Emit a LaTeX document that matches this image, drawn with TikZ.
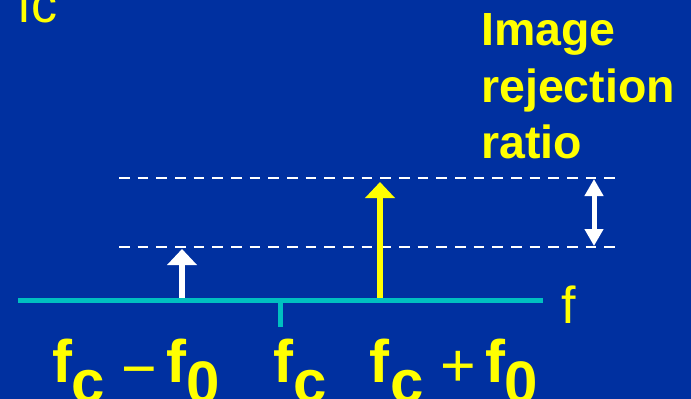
\documentclass[tikz,border=0pt]{standalone}
\usepackage{fontspec}
\setmainfont{Liberation Sans}
\usetikzlibrary{arrows.meta}
\definecolor{bg}{RGB}{0,48,160}
\definecolor{axiscol}{RGB}{0,192,192}
\definecolor{yel}{RGB}{255,255,0}
\begin{document}
\begin{tikzpicture}[x=1pt,y=-1pt,
  big/.style={font=\fontsize{60}{60}\selectfont\bfseries, text=yel, inner sep=0pt, anchor=base west},
  sym/.style={font=\fontsize{61}{61}\selectfont, text=yel, inner sep=0pt, anchor=base west},
  reg/.style={font=\fontsize{52}{52}\selectfont, text=yel, inner sep=0pt, anchor=base west},
  title/.style={font=\fontsize{46.5}{46.5}\selectfont\bfseries, text=yel, inner sep=0pt, anchor=base west},
  dashline/.style={white, line width=2pt, dash pattern=on 10.5pt off 8.17pt},
  axisline/.style={axiscol, line width=5.5pt},
  bigarrow/.style={line width=5.5pt, -{Triangle[width=29pt,length=16pt]}},
  dblarrow/.style={white, line width=5pt, {Triangle[width=18pt,length=17pt]}-{Triangle[width=18pt,length=17pt]}}]
\fill[bg] (0,0) rectangle (691,399);
\useasboundingbox (0,0) rectangle (691,399);
% coordinates
\coordinate (axL) at (18,300.5);
\coordinate (axR) at (543,300.5);
\coordinate (tickT) at (280.5,300.5);
\coordinate (tickB) at (280.5,327);
\coordinate (d1L) at (119,178);
\coordinate (d1R) at (616,178);
\coordinate (d2L) at (119,247);
\coordinate (d2R) at (616,247);
\coordinate (wb) at (182,300);
\coordinate (wt) at (182,249);
\coordinate (yb) at (380,300);
\coordinate (yt) at (380,182);
\coordinate (ra) at (594,179);
\coordinate (rb) at (594,246);
% dashed levels
\draw[dashline] (d1L) -- (d1R);
\draw[dashline] (d2L) -- (d2R);
% arrows
\draw[bigarrow, white] (wb) -- (wt);
\draw[bigarrow, yel] (yb) -- (yt);
\draw[dblarrow] (ra) -- (rb);
% axis
\draw[axisline] (axL) -- (axR);
\draw[axiscol, line width=5pt] (tickT) -- (tickB);
% texts
\node[reg] (topfc) at (17,22) {fc};
\node[reg] (faxis) at (561,323) {f};
\node[title] (t1) at (481,45) {Image};
\node[title] (t2) at (481,102) {rejection};
\node[title] (t3) at (481,158) {ratio};
% f_c - f_0
\node[big] (a1) at (52,382) {f};
\node[big] (a2) at (71,402) {c};
\node[sym] (a3) at (121,389) {−};
\node[big] (a4) at (166.5,382) {f};
\node[big] (a5) at (186.5,403) {0};
% f_c
\node[big] (b1) at (273,382) {f};
\node[big] (b2) at (293,402) {c};
% f_c + f_0
\node[big] (c1) at (369,382) {f};
\node[big] (c2) at (390,402) {c};
\node[sym] (c3) at (440,386) {+};
\node[big] (c4) at (485,382) {f};
\node[big] (c5) at (504.5,403) {0};
\end{tikzpicture}
\end{document}
